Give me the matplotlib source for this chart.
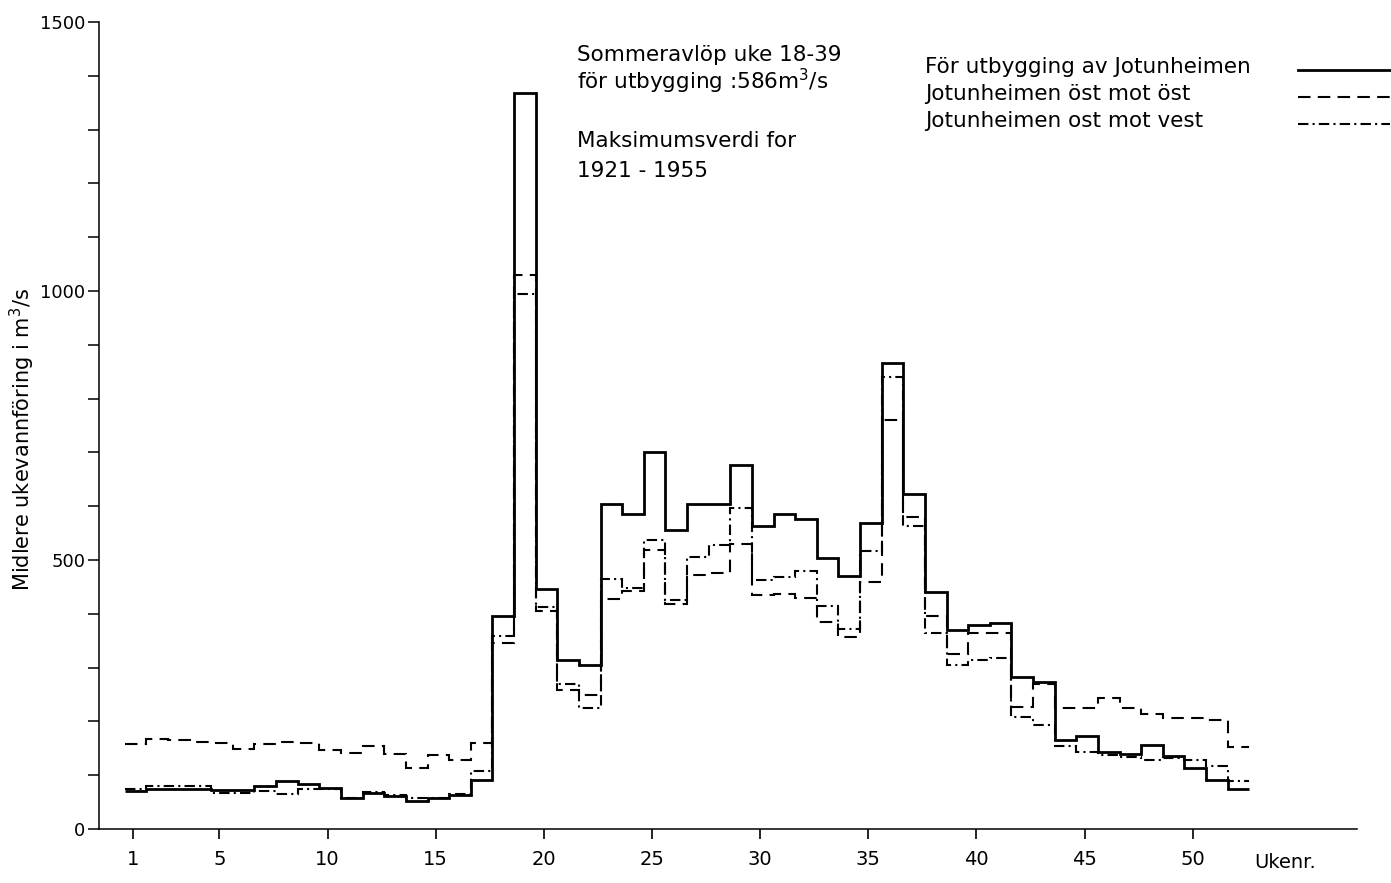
import numpy as np
import matplotlib
matplotlib.use("Agg")
import matplotlib.pyplot as plt
from matplotlib.lines import Line2D
from matplotlib.ticker import MultipleLocator

# Week numbers and mean weekly discharge (m3/s)
weeks = np.arange(1, 53)

for_utbygging = [70, 74, 74, 74, 73, 73, 80, 90, 84, 77,
                 58, 67, 62, 52, 57, 63, 91, 395, 1368, 446,
                 314, 305, 604, 585, 701, 556, 605, 605, 677, 564,
                 585, 577, 504, 471, 569, 866, 623, 440, 370, 379,
                 382, 283, 274, 166, 172, 143, 139, 156, 135, 113,
                 92, 74]

ost_mot_ost = [158, 168, 166, 162, 160, 148, 158, 161, 160, 147,
               141, 154, 139, 113, 137, 128, 160, 345, 1030, 405,
               258, 250, 428, 442, 519, 419, 472, 475, 530, 435,
               437, 429, 384, 356, 460, 760, 579, 396, 325, 365,
               365, 226, 270, 225, 225, 243, 224, 214, 206, 206,
               202, 153]

ost_mot_vest = [75, 79, 80, 80, 67, 67, 71, 65, 74, 74,
                57, 68, 64, 58, 58, 65, 107, 358, 995, 412,
                269, 224, 464, 448, 537, 426, 506, 528, 596, 463,
                469, 480, 415, 371, 516, 841, 563, 365, 305, 314,
                317, 209, 193, 154, 143, 137, 134, 128, 132, 129,
                118, 89]

series_labels = ["För utbygging av Jotunheimen",
                 "Jotunheimen öst mot öst",
                 "Jotunheimen ost mot vest"]

xtick_weeks = [1, 5, 10, 15, 20, 25, 30, 35, 40, 45, 50]
ytick_major = [0, 500, 1000, 1500]

W, H = 1391, 883
fig = plt.figure(figsize=(W / 100, H / 100), dpi=100)
ax = fig.add_axes([99 / W, 1 - 829 / H, (1357 - 99) / W, (829 - 22) / H])

styles = [dict(lw=2.0, linestyle="-"),
          dict(lw=1.5, linestyle=(0, (6, 3.5))),
          dict(lw=1.5, linestyle=(0, (5, 2, 1, 2)))]

edges = np.append(weeks - 0.5, weeks[-1] + 0.5) + 0.12
for vals, st, lab in zip([for_utbygging, ost_mot_ost, ost_mot_vest],
                         styles, series_labels):
    ax.stairs(vals, edges, baseline=None, color="black", label=lab, **st)

ax.set_xlim(-0.57, 57.6)
ax.set_ylim(0, 1500)

for side in ["top", "right"]:
    ax.spines[side].set_visible(False)
for side in ["left", "bottom"]:
    ax.spines[side].set_linewidth(1.1)

ax.set_xticks(xtick_weeks)
ax.set_yticks(ytick_major)
ax.yaxis.set_minor_locator(MultipleLocator(100))
ax.tick_params(axis="x", direction="out", length=7, width=1.2, pad=8,
               labelsize=14)
ax.tick_params(axis="y", which="both", direction="out", length=8, width=1.1,
               pad=2, labelsize=13)

# legend drawn by hand: text left-aligned, line sample on the right
legend_rows = [67, 94, 121]
for lab, st, yrow in zip(series_labels, styles, legend_rows):
    fig.text(925 / W, 1 - yrow / H, lab, fontsize=15.5, va="center")
    fig.add_artist(Line2D([1298 / W, 1390 / W],
                          [1 - (yrow + 3) / H, 1 - (yrow + 3) / H],
                          transform=fig.transFigure, color="black", **st))

fig.text(577 / W, 1 - 55 / H, "Sommeravlöp uke 18-39", fontsize=15.5,
         va="center")
fig.text(577 / W, 1 - 81 / H, "för utbygging :586m$^3$/s", fontsize=15.5,
         va="center")
fig.text(577 / W, 1 - 141 / H, "Maksimumsverdi for", fontsize=15.5,
         va="center")
fig.text(577 / W, 1 - 171 / H, "1921 - 1955", fontsize=15.5, va="center")

fig.text(22 / W, 1 - 440 / H, "Midlere ukevannföring i m$^3$/s",
         fontsize=15, rotation=90, ha="center", va="center")
fig.text(1285 / W, 1 - 862 / H, "Ukenr.", fontsize=14, ha="center",
         va="center")

fig.savefig("out.png", dpi=100)
